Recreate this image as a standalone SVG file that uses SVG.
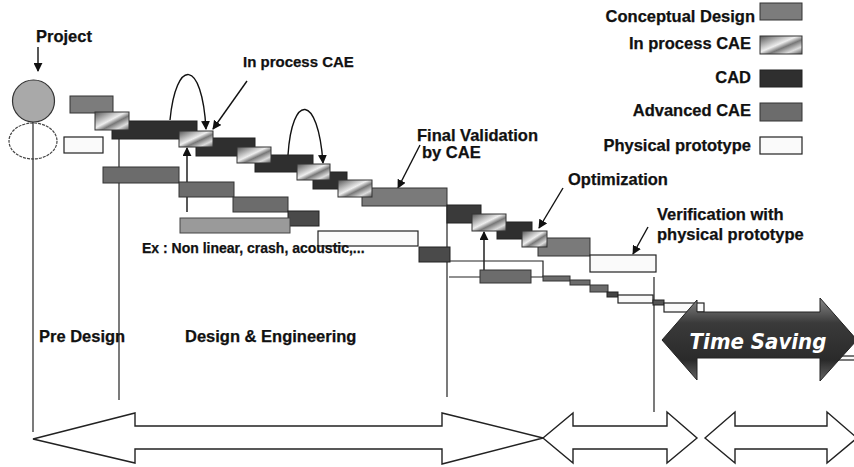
<svg xmlns="http://www.w3.org/2000/svg" width="854" height="467" viewBox="0 0 854 467">
<defs>
<linearGradient id="ipg" x1="0" y1="0" x2="1" y2="1">
<stop offset="0" stop-color="#555"/><stop offset="0.3" stop-color="#bbb"/><stop offset="0.45" stop-color="#eee"/><stop offset="0.6" stop-color="#777"/><stop offset="0.8" stop-color="#ddd"/><stop offset="1" stop-color="#555"/>
</linearGradient>
<linearGradient id="tsg" x1="0" y1="0" x2="0" y2="1">
<stop offset="0" stop-color="#888"/><stop offset="0.3" stop-color="#3a3a3a"/><stop offset="0.75" stop-color="#2a2a2a"/><stop offset="1" stop-color="#666"/>
</linearGradient>
<marker id="ah" viewBox="0 0 10 10" refX="9" refY="5" markerWidth="9" markerHeight="9" markerUnits="userSpaceOnUse" orient="auto">
<path d="M0,0 L10,5 L0,10 Z" fill="#111"/>
</marker>
<style>
text{font-family:"Liberation Sans",Arial,sans-serif;font-weight:bold;fill:#111;stroke:#111;stroke-width:0.25}
.lbl{font-size:16.5px}
.sm{font-size:14px}
.cd{fill:#7c7c7c;stroke:#333;stroke-width:1}
.ip{fill:url(#ipg);stroke:#333;stroke-width:1}
.cad{fill:#2f2f2f;stroke:#222;stroke-width:1}
.adv{fill:#6c6c6c;stroke:#333;stroke-width:1}
.lt{fill:#9a9a9a;stroke:#444;stroke-width:1}
.ph{fill:#fafafa;stroke:#222;stroke-width:1.2}
.ln{fill:none;stroke:#222;stroke-width:1.2}
.ar{fill:none;stroke:#111;stroke-width:1.4;marker-end:url(#ah)}
.big{fill:#fff;stroke:#222;stroke-width:1.4}
</style>
</defs>
<rect width="854" height="467" fill="#fff"/>

<!-- legend -->
<g id="legend">
<text class="lbl" x="755" y="22" text-anchor="end">Conceptual Design</text>
<rect class="cd" x="760" y="3" width="42" height="17"/>
<text class="lbl" x="751" y="49" text-anchor="end">In process CAE</text>
<rect class="ip" x="760" y="36" width="42" height="18"/>
<text class="lbl" x="751" y="83" text-anchor="end">CAD</text>
<rect class="cad" x="760" y="70" width="42" height="17"/>
<text class="lbl" x="751" y="116" text-anchor="end">Advanced CAE</text>
<rect class="adv" x="760" y="103" width="42" height="18"/>
<text class="lbl" x="751" y="151" text-anchor="end">Physical prototype</text>
<rect class="ph" x="760" y="137" width="42" height="17"/>
</g>

<!-- project -->
<g id="project">
<text class="lbl" x="36" y="42">Project</text>
<ellipse cx="33" cy="141" rx="24" ry="18" fill="#fff" stroke="#444" stroke-width="1.2" stroke-dasharray="3,1"/>
<circle cx="33.5" cy="101" r="21" fill="#a9a9a9" stroke="#333" stroke-width="1.2"/>
<rect class="ph" x="64" y="137" width="39" height="16"/>
</g>

<!-- connectors and lines -->
<g id="connectors">
<path class="ln" d="M33,122 V432"/>
<path class="ln" d="M119,139 V400"/>
<path class="ln" d="M447,206 V397"/>
<path class="ln" d="M654,277 V412"/>
<path class="ar" d="M38,47 V71"/>
<path class="ar" d="M187,212 V148"/>
<path class="ar" d="M484,270 V232"/>
<path class="ar" d="M170,120 C176,58 202,58 206,129"/>
<path class="ar" d="M288,155 C292,93 318,93 323,163"/>
<path class="ar" d="M247,81 L213,129"/>
<path class="ar" d="M420,145 L398,188"/>
<path class="ar" d="M563,188 L539,228"/>
<path class="ar" d="M648,227 L633,254"/>
<path class="ln" d="M449,261 H543 V277 H531 M480,277 H449"/>
</g>

<!-- lower advanced CAE bars -->
<g id="lower-bars">
<rect class="adv" x="103" y="167" width="76" height="16"/>
<rect class="adv" x="179" y="182" width="55" height="15"/>
<rect class="adv" x="233" y="197" width="55" height="15"/>
<rect class="cad" x="288" y="211" width="31" height="15" style="fill:#4a4a4a"/>
<rect class="lt" x="180" y="218" width="110" height="15"/>
<rect class="ph" x="318" y="231" width="100" height="15"/>
<rect class="cad" x="419" y="247" width="31" height="15" style="fill:#4a4a4a"/>
<rect class="adv" x="480" y="270" width="51" height="13"/>
</g>

<!-- main chain -->
<g id="chain">
<rect class="cd" x="70" y="96" width="43" height="17"/>
<rect class="cad" x="112" y="121" width="85" height="18"/>
<rect class="ip" x="95" y="112" width="34" height="18"/>
<rect class="cad" x="196" y="138" width="59" height="18"/>
<rect class="ip" x="179" y="131" width="34" height="16"/>
<rect class="cad" x="255" y="155" width="58" height="17"/>
<rect class="ip" x="237" y="147" width="34" height="16"/>
<rect class="cad" x="313" y="172" width="34" height="17"/>
<rect class="ip" x="297" y="164" width="33" height="16"/>
<rect class="adv" x="362" y="188" width="85" height="18" style="fill:#7a7a7a"/>
<rect class="ip" x="338" y="180" width="34" height="17"/>
<rect class="cad" x="447" y="205" width="34" height="18" style="fill:#3a3a3a"/>
<rect class="cad" x="497" y="222" width="35" height="17"/>
<rect class="ip" x="472" y="214" width="34" height="17"/>
<rect class="adv" x="538" y="238" width="52" height="18" style="fill:#7a7a7a"/>
<rect class="ip" x="522" y="231" width="25" height="16"/>
<rect class="ph" x="590" y="255" width="66" height="17"/>
</g>

<!-- staircase -->
<g id="staircase">
<rect class="adv" x="543" y="276" width="27" height="5"/>
<rect class="adv" x="570" y="280" width="20" height="5"/>
<rect class="adv" x="590" y="285" width="18" height="7"/>
<rect class="cad" x="607" y="292" width="11" height="5" style="fill:#444"/>
<rect class="ph" x="618" y="295" width="35" height="8" stroke-width="1"/>
<rect class="cad" x="653" y="300" width="11" height="5" style="fill:#555"/>
<rect class="ph" x="664" y="303" width="40" height="9" stroke-width="1"/>
<rect class="ph" x="835" y="356" width="25" height="4" stroke-width="1"/>
</g>

<!-- labels -->
<g id="labels">
<text class="lbl" x="243" y="67" style="font-size:15px">In process CAE</text>
<text class="lbl" x="417" y="141">Final Validation</text>
<text class="lbl" x="422" y="158">by CAE</text>
<text class="lbl" x="568" y="185">Optimization</text>
<text class="lbl" x="657" y="220">Verification with</text>
<text class="lbl" x="657" y="240">physical prototype</text>
<text class="sm" x="142" y="253">Ex : Non linear, crash, acoustic,...</text>
<text class="lbl" x="39" y="342">Pre Design</text>
<text class="lbl" x="185" y="342">Design &amp; Engineering</text>
</g>

<!-- time saving -->
<g id="time-saving">
<path d="M662,340 L697,300 L697,312 L820,312 L820,298 L857,340 L820,381 L820,358 L697,358 L697,380 Z" fill="url(#tsg)" stroke="#222" stroke-width="1"/>
<text x="758" y="349" text-anchor="middle" style="font-family:'DejaVu Sans Condensed','Liberation Sans Narrow','Liberation Sans',sans-serif;font-style:italic;font-size:22px;font-stretch:condensed;fill:#fff;stroke:none;font-weight:bold">Time Saving</text>
</g>

<!-- phase arrows -->
<g id="phase-arrows">
<path class="big" d="M33,439 L135,413 L135,426 L442,426 L442,413 L543,438 L442,464 L442,449 L135,449 L135,463 Z"/>
<path class="big" d="M543,438 L573,413 L573,426 L667,426 L667,412 L697,438 L667,463 L667,449 L573,449 L573,463 Z"/>
<path class="big" d="M705,438 L735,412 L735,426 L827,426 L827,412 L857,438 L827,463 L827,449 L735,449 L735,463 Z"/>
</g>
</svg>
